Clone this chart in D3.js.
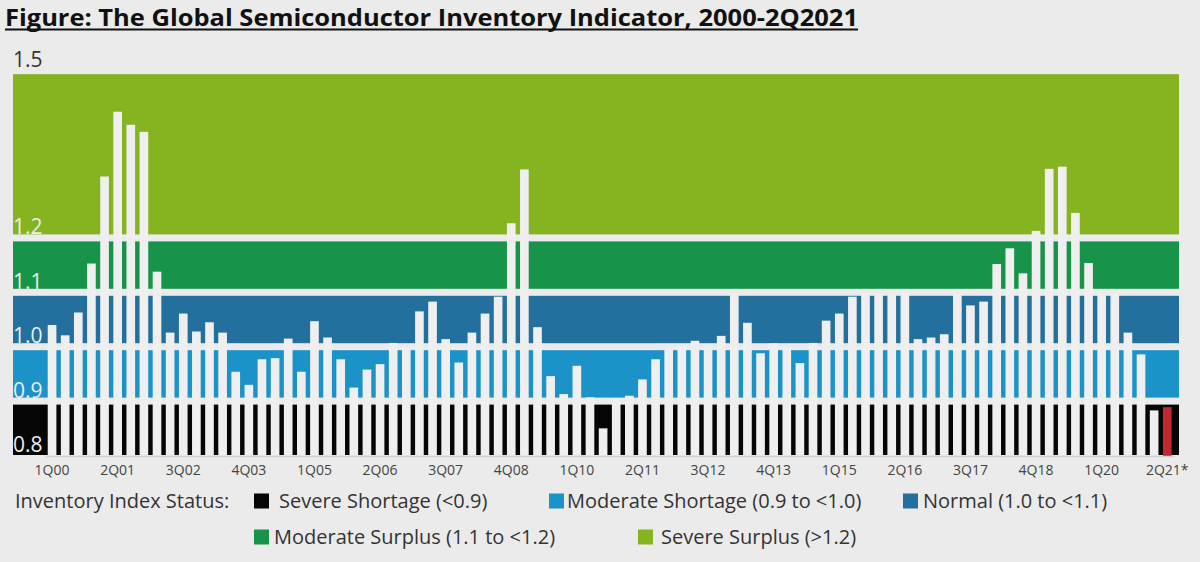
<!DOCTYPE html>
<html lang="en">
<head>
<meta charset="UTF-8">
<title>Global Semiconductor Inventory Indicator</title>
<script src="https://d3js.org/d3.v7.min.js"></script>
<style>
  body { margin: 0; background: #ebebeb; }
  svg { display: block; font-family: "Open Sans", sans-serif; }
</style>
</head>
<body>
<div id="chart"></div>
<script>
// quarters 1Q00 .. 2Q21
const quarters = [
  "1Q00","2Q00","3Q00","4Q00","1Q01","2Q01","3Q01","4Q01","1Q02","2Q02","3Q02","4Q02",
  "1Q03","2Q03","3Q03","4Q03","1Q04","2Q04","3Q04","4Q04","1Q05","2Q05","3Q05","4Q05",
  "1Q06","2Q06","3Q06","4Q06","1Q07","2Q07","3Q07","4Q07","1Q08","2Q08","3Q08","4Q08",
  "1Q09","2Q09","3Q09","4Q09","1Q10","2Q10","3Q10","4Q10","1Q11","2Q11","3Q11","4Q11",
  "1Q12","2Q12","3Q12","4Q12","1Q13","2Q13","3Q13","4Q13","1Q14","2Q14","3Q14","4Q14",
  "1Q15","2Q15","3Q15","4Q15","1Q16","2Q16","3Q16","4Q16","1Q17","2Q17","3Q17","4Q17",
  "1Q18","2Q18","3Q18","4Q18","1Q19","2Q19","3Q19","4Q19","1Q20","2Q20","3Q20","4Q20",
  "1Q21","2Q21"
];

// inventory index
const inventoryIndex = [
  1.039, 1.020, 1.062, 1.152, 1.312, 1.431, 1.407, 1.394, 1.137, 1.025, 1.060, 1.027,
  1.044, 1.025, 0.953, 0.929, 0.976, 0.978, 1.014, 0.953, 1.046, 1.016, 0.976, 0.924,
  0.957, 0.967, 1.006, 0.997, 1.064, 1.082, 1.013, 0.970, 1.025, 1.060, 1.091, 1.226,
  1.325, 1.035, 0.945, 0.912, 0.964, 0.906, 0.849, 0.904, 0.909, 0.939, 0.976, 0.998,
  0.999, 1.010, 1.000, 1.019, 1.097, 1.043, 0.987, 1.005, 0.998, 0.969, 1.006, 1.047,
  1.060, 1.091, 1.097, 1.097, 1.097, 1.097, 1.013, 1.016, 1.022, 1.097, 1.075, 1.082,
  1.151, 1.180, 1.134, 1.212, 1.326, 1.330, 1.245, 1.153, 1.097, 1.097, 1.025, 0.985,
  0.882, 0.888
];

const tickQuarters = ["1Q00","2Q01","3Q02","4Q03","1Q05","2Q06","3Q07","4Q08","1Q10",
  "2Q11","3Q12","4Q13","1Q15","2Q16","3Q17","4Q18","1Q20","2Q21"];
const highlightQuarter = "2Q21";

const statusNames = ["Severe Shortage (<0.9)", "Moderate Shortage (0.9 to <1.0)",
  "Normal (1.0 to <1.1)", "Moderate Surplus (1.1 to <1.2)", "Severe Surplus (>1.2)"];
const statusFrom = [0.8, 0.9, 1.0, 1.1, 1.2];
const statusTo = [0.9, 1.0, 1.1, 1.2, 1.5];
const statusColors = ["#050505", "#1b93c8", "#23709f", "#17944a", "#86b420"];

const yTicks = [0.8, 0.9, 1.0, 1.1, 1.2, 1.5];

const W = 1200, H = 562;
const plotLeft = 13, plotRight = 1179;
const barColor = "#efefef", gapColor = "#ebebeb";

const svg = d3.select("#chart").append("svg")
  .attr("width", W)
  .attr("height", H);

// title, stretched to the width it has in the figure
const titleWidth = 853;
svg.append("text")
  .attr("x", 5)
  .attr("y", 25.5)
  .attr("textLength", titleWidth)
  .attr("lengthAdjust", "spacingAndGlyphs")
  .style("font-size", "23.5px")
  .style("font-weight", "bold")
  .style("fill", "#111")
  .text("Figure: The Global Semiconductor Inventory Indicator, 2000-2Q2021");
svg.append("line")
  .attr("x1", 5).attr("x2", 5 + titleWidth)
  .attr("y1", 29.5).attr("y2", 29.5)
  .style("stroke", "#111").style("stroke-width", 2);

const y = d3.scaleLinear().domain([0.8, 1.5]).range([455, 74.2]);
const x = d3.scaleBand().domain(quarters)
  .range([45.5, 45.5 + quarters.length * 13.12])
  .paddingInner(0.34)
  .paddingOuter(0.17);

// status bands
const bands = statusNames.map((n, i) => ({ name: n, from: statusFrom[i], to: statusTo[i], color: statusColors[i] }));

svg.append("g").selectAll("rect")
  .data(bands)
  .join("rect")
  .attr("x", plotLeft)
  .attr("width", plotRight - plotLeft)
  .attr("y", d => y(d.to))
  .attr("height", d => y(d.from) - y(d.to))
  .style("fill", d => d.color);

// y labels
svg.append("g").selectAll("text")
  .data(yTicks)
  .join("text")
  .attr("x", 13)
  .attr("y", d => d === 1.5 ? y(d) - 7 : y(d) - 3)
  .style("font-size", "21px")
  .style("fill", d => d === 1.5 ? "#333" : "#ececec")
  .text(d => d.toFixed(1));

// white gaps between bands
svg.append("g").selectAll("rect")
  .data(statusFrom.slice(1))
  .join("rect")
  .attr("x", plotLeft)
  .attr("width", plotRight - plotLeft)
  .attr("y", d => y(d) - 3)
  .attr("height", 7)
  .style("fill", gapColor);

// bars
svg.append("g").selectAll("rect")
  .data(quarters.map((q, i) => ({ q: q, v: inventoryIndex[i] })))
  .join("rect")
  .attr("x", d => x(d.q))
  .attr("width", x.bandwidth())
  .attr("y", d => y(d.v))
  .attr("height", d => y(0.8) - y(d.v) + (d.q === highlightQuarter ? 2 : 0))
  .style("fill", d => d.q === highlightQuarter ? "#c1272d" : barColor);

// x axis
const xAxis = d3.axisBottom(x)
  .tickValues(tickQuarters)
  .tickSize(0)
  .tickPadding(9)
  .tickFormat(d => d === highlightQuarter ? d + "*" : d);

const gx = svg.append("g")
  .attr("transform", "translate(0," + (y(0.8) + 1) + ")")
  .call(xAxis);
gx.select(".domain").style("stroke", "#cfcfcf").style("stroke-width", 1.5);
gx.selectAll("text")
  .style("font-family", "'Open Sans', sans-serif")
  .style("font-size", "14px")
  .style("fill", "#444");

// legend
svg.append("text")
  .attr("x", 15).attr("y", 508)
  .style("font-size", "20px").style("fill", "#333")
  .text("Inventory Index Status:");

const legendPos = [
  { x: 254, y: 501, tx: 279 },
  { x: 549, y: 501, tx: 567 },
  { x: 903, y: 501, tx: 923 },
  { x: 254, y: 537, tx: 274 },
  { x: 638, y: 537, tx: 661 }
];

const lg = svg.append("g").selectAll("g")
  .data(bands)
  .join("g");
lg.append("rect")
  .attr("x", (d, i) => legendPos[i].x)
  .attr("y", (d, i) => legendPos[i].y - 7.5)
  .attr("width", 15).attr("height", 15)
  .style("fill", d => d.color);
lg.append("text")
  .attr("x", (d, i) => legendPos[i].tx)
  .attr("y", (d, i) => legendPos[i].y + 7)
  .style("font-size", "20px").style("fill", "#333")
  .text(d => d.name);
</script>
</body>
</html>
